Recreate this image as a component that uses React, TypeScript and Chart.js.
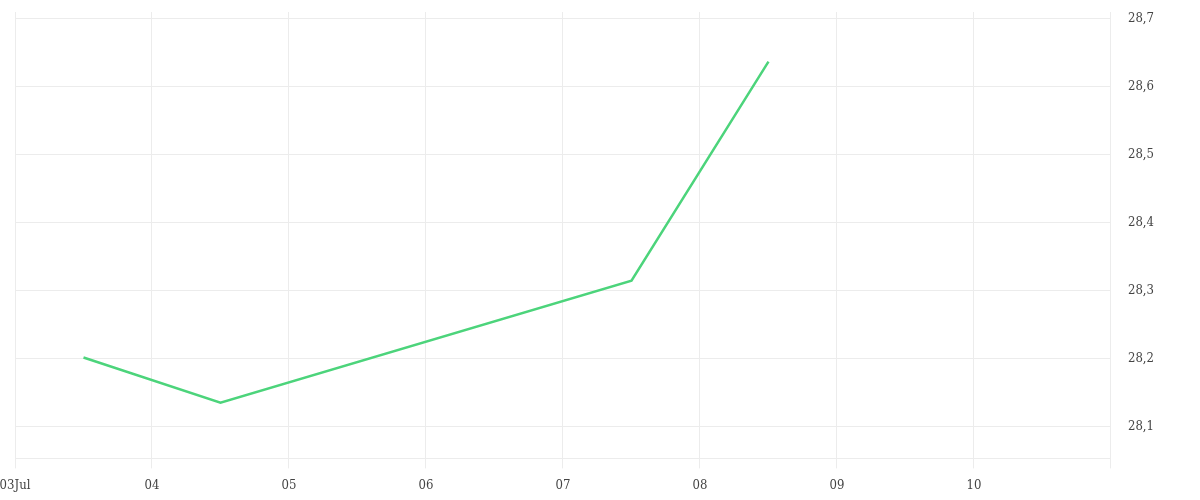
import React, { useEffect, useRef } from "react";
import { Chart, registerables } from "chart.js";

Chart.register(...registerables);

const dayPositions = [3.5, 4.5, 7.5, 8.5];
const prices = [28.2015, 28.135, 28.3147, 28.637];
const xTickDays = [3, 4, 5, 6, 7, 8, 9, 10, 11];
const yTickValues = [28.1, 28.2, 28.3, 28.4, 28.5, 28.6, 28.7];

export default function App() {
  const ref = useRef<HTMLCanvasElement | null>(null);
  useEffect(() => {
    if (!ref.current) return;
    const font = { family: "'DejaVu Serif Condensed', 'DejaVu Serif', serif", size: 13 };
    const chart = new Chart(ref.current, {
      type: "line",
      data: {
        datasets: [
          {
            data: dayPositions.map((x, i) => ({ x, y: prices[i] })),
            borderColor: "#4cd47b",
            borderWidth: 2.5,
            pointRadius: 0,
            tension: 0,
            fill: false,
          },
        ],
      },
      options: {
        animation: false,
        responsive: true,
        maintainAspectRatio: false,
        layout: { padding: { left: 15, top: 12, right: 29, bottom: -2 } },
        plugins: { legend: { display: false }, tooltip: { enabled: false } },
        scales: {
          x: {
            type: "linear",
            min: 3,
            max: 11,
            afterBuildTicks: (axis: any) => {
              axis.ticks = xTickDays.map((v) => ({ value: v }));
            },
            afterFit: (axis: any) => {
              axis.paddingLeft = 0;
              axis.paddingRight = 0;
            },
            ticks: {
              font,
              color: "#444",
              maxRotation: 0,
              autoSkip: false,
              padding: 9,
              callback: (v: any) => {
                const n = Number(v);
                if (n === 11) return "";
                if (n === 3) return "03Jul";
                return String(n).padStart(2, "0");
              },
            },
            grid: { color: "#ececec", tickLength: 10, lineWidth: 1 },
            border: { color: "#ececec" },
          },
          y: {
            position: "right",
            min: 28.053,
            max: 28.71,
            afterBuildTicks: (axis: any) => {
              axis.ticks = yTickValues.map((v) => ({ value: v }));
            },
            afterFit: (axis: any) => {
              axis.paddingTop = 0;
              axis.paddingBottom = 0;
            },
            ticks: {
              font,
              color: "#444",
              padding: 17,
              callback: (v: any) => Number(v).toFixed(1).replace(".", ","),
            },
            grid: { color: "#ececec", drawTicks: false, lineWidth: 1 },
            border: { color: "#ececec" },
          },
        },
      },
    });
    return () => chart.destroy();
  }, []);
  return (
    <>
      <style>{"body{margin:0}"}</style>
      <div style={{ width: 1200, height: 500, position: "relative" }}>
        <canvas ref={ref} />
      </div>
    </>
  );
}
